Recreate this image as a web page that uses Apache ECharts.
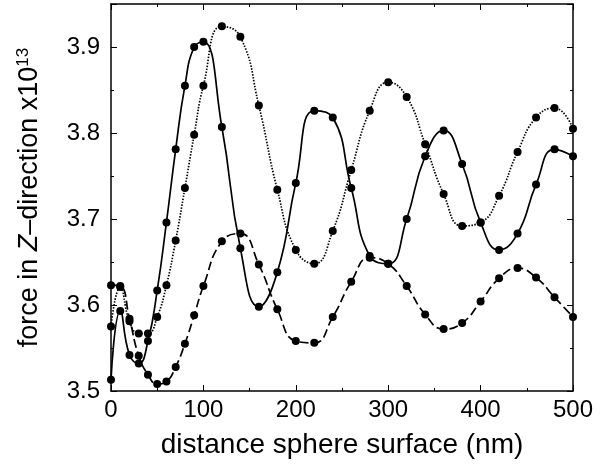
<!DOCTYPE html>
<html>
<head>
<meta charset="utf-8">
<script src="https://cdn.jsdelivr.net/npm/echarts@6/dist/echarts.min.js"></script>
<style>
html,body{margin:0;padding:0;background:#fff;}
#chart{width:609px;height:464px;}
</style>
</head>
<body>
<div id="chart"></div>
<script>
// distance sphere surface (nm)
const distances = [0,10,20,30,40,50,60,70,80,90,100,120,140,160,180,200,220,240,260,280,300,320,340,360,380,400,420,440,460,480,500];
// force in Z-direction x10^13
const solidForce = [3.513,3.593,3.542,3.532,3.558,3.617,3.696,3.781,3.855,3.900,3.906,3.807,3.666,3.598,3.638,3.742,3.826,3.818,3.736,3.657,3.648,3.700,3.773,3.803,3.764,3.696,3.664,3.683,3.740,3.781,3.773];
const dottedForce = [3.575,3.621,3.581,3.567,3.567,3.586,3.623,3.675,3.736,3.798,3.855,3.924,3.912,3.832,3.734,3.664,3.648,3.686,3.757,3.826,3.859,3.842,3.787,3.729,3.692,3.696,3.727,3.778,3.818,3.829,3.805];
const dashedForce = [3.623,3.622,3.584,3.541,3.519,3.508,3.511,3.528,3.555,3.588,3.622,3.674,3.683,3.647,3.595,3.558,3.556,3.586,3.627,3.655,3.648,3.622,3.589,3.572,3.579,3.604,3.631,3.643,3.632,3.609,3.586];
const xTickLabels = ['0','100','200','300','400','500'];
const yTickLabels = ['3.5','3.6','3.7','3.8','3.9'];

const FONT = 'Liberation Sans, Arial, Helvetica, sans-serif';
const pairs = vals => distances.map((d, i) => [d, vals[i]]);

const chart = echarts.init(document.getElementById('chart'), null, {renderer: 'canvas'});

const lineCommon = {color: '#000', width: 1.5};
function xAx(pos, labels) {
  return {
    type: 'value', position: pos, min: 0, max: 500, interval: 100,
    axisLine: {show: true, onZero: false, lineStyle: lineCommon},
    axisTick: {show: true, inside: true, length: 6, lineStyle: {color: '#000', width: 1}},
    minorTick: {show: true, splitNumber: 2, length: 3, lineStyle: {color: '#000', width: 1}},
    splitLine: {show: false},
    axisLabel: labels ? {
      show: true, color: '#000', fontSize: 24, fontFamily: FONT, margin: 7,
      formatter: v => { const k = Math.round(v / 100); return (Math.abs(v - k * 100) < 1e-6 && xTickLabels[k] !== undefined) ? xTickLabels[k] : ''; }
    } : {show: false}
  };
}
function yAx(pos, labels, interval, len, line) {
  return {
    type: 'value', position: pos, min: 3.5, max: 3.95, interval: interval,
    axisLine: {show: line, onZero: false, lineStyle: lineCommon},
    axisTick: {show: true, inside: true, length: len, lineStyle: {color: '#000', width: 1}},
    splitLine: {show: false},
    axisLabel: labels ? {
      show: true, color: '#000', fontSize: 24, fontFamily: FONT, margin: 11,
      formatter: v => { const k = Math.round((v - 3.5) * 10); return (Math.abs(v - (3.5 + k * 0.1)) < 1e-6 && yTickLabels[k] !== undefined) ? yTickLabels[k] : ''; }
    } : {show: false}
  };
}

const xa0 = xAx('bottom', true);
xa0.name = 'distance sphere surface (nm)';
xa0.nameLocation = 'middle';
xa0.nameGap = 40;
xa0.nameTextStyle = {color: '#000', fontSize: 28, fontFamily: FONT};

const ya0 = yAx('left', true, 0.1, 6, true);
ya0.name = 'force in {i|Z}\u2013direction x10{sup|13}';
ya0.nameLocation = 'middle';
ya0.nameRotate = 90;
ya0.nameGap = 67;
ya0.nameTextStyle = {
  color: '#000', fontSize: 27, fontFamily: FONT,
  rich: {
    i: {fontStyle: 'italic', fontSize: 27, fontFamily: FONT, color: '#000'},
    sup: {fontSize: 17, fontFamily: FONT, color: '#000', verticalAlign: 'top', padding: [0, 0, 12, 0]}
  }
};

function ser(vals, type) {
  return {
    type: 'line', data: pairs(vals), xAxisIndex: 0, yAxisIndex: 0,
    smooth: 0.5, symbol: 'circle', symbolSize: 8,
    itemStyle: {color: '#000'},
    lineStyle: {color: '#000', width: 1.7, type: type},
    emphasis: {disabled: true}, z: 3
  };
}

chart.setOption({
  animation: false,
  backgroundColor: '#fff',
  grid: {left: 111, right: 36, top: 4, bottom: 73, containLabel: false},
  xAxis: [xa0, xAx('top', false)],
  yAxis: [ya0, yAx('right', false, 0.1, 6, true), yAx('left', false, 0.05, 3, false), yAx('right', false, 0.05, 3, false)],
  series: [
    ser(solidForce, 'solid'),
    ser(dottedForce, [1.5, 1.5]),
    ser(dashedForce, [9, 4])
  ]
});
</script>
</body>
</html>
